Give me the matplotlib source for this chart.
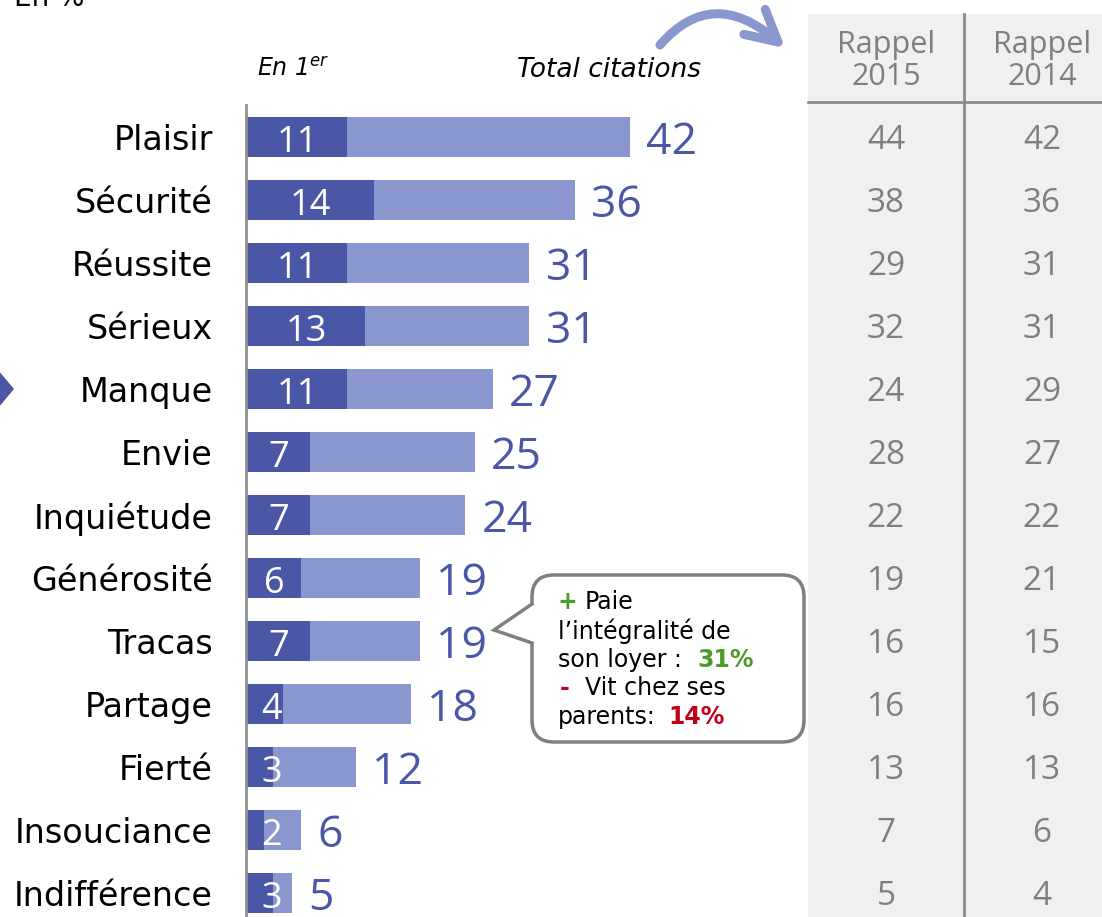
import matplotlib
matplotlib.use("Agg")
import matplotlib.pyplot as plt
import numpy as np
from matplotlib.patches import FancyBboxPatch, Polygon, PathPatch, Rectangle
from matplotlib.path import Path

# Données
categories = ["Plaisir", "Sécurité", "Réussite", "Sérieux", "Manque", "Envie",
              "Inquiétude", "Générosité", "Tracas", "Partage", "Fierté",
              "Insouciance", "Indifférence"]
en_premier = [11, 14, 11, 13, 11, 7, 7, 6, 7, 4, 3, 2, 3]
total_citations = [42, 36, 31, 31, 27, 25, 24, 19, 19, 18, 12, 6, 5]
rappel_2015 = [44, 38, 29, 32, 24, 28, 22, 19, 16, 16, 13, 7, 5]
rappel_2014 = [42, 36, 31, 31, 29, 27, 22, 21, 15, 16, 13, 6, 4]
table_headers = ["Rappel\n2015", "Rappel\n2014"]

DARK = "#4A56A6"
LIGHT = "#8A97CF"
GREY_TXT = "#7F7F7F"
W, H = 1102, 917
ROW = 63  # hauteur d'une ligne en pixels

fig = plt.figure(figsize=(W / 100, H / 100), dpi=100)

# fond du tableau (derrière tout)
over = fig.add_axes([0, 0, 1, 1], zorder=0)
over.set_xlim(0, W)
over.set_ylim(H, 0)
over.axis("off")
over.add_patch(Rectangle((808, 14), W - 808, H - 14, facecolor="#F0F0F0", edgecolor="none"))
over.plot([964, 964], [14, H], color="#8C8C8C", lw=2)
over.plot([808, W], [102, 102], color="#8C8C8C", lw=2)

# barres
ax = fig.add_axes([246 / W, 0, (800 - 246) / W, (H - 105) / H], zorder=1)
ax.patch.set_alpha(0)
y = list(range(len(categories)))
ax.barh(y, total_citations, height=0.63, color=LIGHT)
ax.barh(y, en_premier, height=0.63, color=DARK)
ax.set_xlim(0, (800 - 246) / 9.14)
ax.set_ylim(12 + 24 / ROW, -32 / ROW)
for s in ["top", "right", "bottom"]:
    ax.spines[s].set_visible(False)
ax.spines["left"].set_color("#909090")
ax.spines["left"].set_linewidth(2)
ax.set_xticks([])
ax.set_yticks(y)
ax.set_yticklabels(categories, fontsize=24, color="black")
ax.tick_params(axis="y", length=0, pad=24)

for i in y:
    ax.text(max(en_premier[i] / 2 + 0.1, 2.85), i + 15 / ROW, str(en_premier[i]),
            ha="center", va="baseline", color="white", fontsize=26, family="Open Sans")
    ax.text(total_citations[i] + 1.8, i + 17 / ROW, str(total_citations[i]), ha="left",
            va="baseline", color=DARK, fontsize=32, family="Open Sans")

# tableau des rappels
top = fig.add_axes([0, 0, 1, 1], zorder=2)
top.set_xlim(0, W)
top.set_ylim(H, 0)
top.axis("off")
for cx, head, vals in [(886, table_headers[0], rappel_2015), (1042, table_headers[1], rappel_2014)]:
    top.text(cx, 61, head, ha="center", va="center", color=GREY_TXT, fontsize=22,
             family="Open Sans", linespacing=1.1)
    for i, v in enumerate(vals):
        top.text(cx, 137 + ROW * i + 12, str(v), ha="center", va="baseline", color=GREY_TXT,
                 fontsize=24, family="Open Sans")

# en-têtes
top.text(14, -2, "En %", ha="left", va="center", fontsize=20)
top.text(257, 70, "En 1$^{er}$", ha="left", va="center", fontsize=17, style="italic")
top.text(517, 70, "Total citations", ha="left", va="center", fontsize=19, style="italic")

# flèche courbe : arc de Bézier + tête ouverte
p0, pc, p1 = (660, 45), (712, -15), (776, 40)
arc = Path([p0, pc, p1], [Path.MOVETO, Path.CURVE3, Path.CURVE3])
top.add_patch(PathPatch(arc, fill=False, edgecolor=LIGHT, lw=6.5, capstyle="round"))
tip = np.array([778, 42])
d = np.array(p1) - np.array(pc)
ang = np.arctan2(-d[1], -d[0])
for da in (np.radians(28), -np.radians(28)):
    end = tip + 35 * np.array([np.cos(ang + da), np.sin(ang + da)])
    top.plot([tip[0], end[0]], [tip[1], end[1]], color=LIGHT, lw=6.5,
             solid_capstyle="round")

# marqueur à gauche
top.add_patch(Polygon([(-2, 370), (14, 389), (-2, 408)], closed=True, facecolor=DARK,
                      edgecolor="none"))

# bulle
top.add_patch(FancyBboxPatch((532, 575), 272, 167, boxstyle="round,pad=0,rounding_size=22",
                             facecolor="white", edgecolor="#7F7F7F", lw=2.5))
top.add_patch(Polygon([(534, 604), (494, 630), (534, 643)], closed=True, facecolor="white",
                      edgecolor="none"))
top.plot([532, 494, 532], [604, 630, 643], color="#7F7F7F", lw=2.5, solid_joinstyle="miter")

GREEN = "#4C9A2A"
RED = "#C00018"
fs = 17
top.text(558, 602, "+", color=GREEN, fontsize=fs, va="center", weight="bold")
top.text(585, 602, "Paie", color="black", fontsize=fs, va="center")
top.text(558, 631, "l’intégralité de", color="black", fontsize=fs, va="center")
top.text(558, 660, "son loyer :", color="black", fontsize=fs, va="center")
top.text(697, 660, "31%", color=GREEN, fontsize=fs, va="center", weight="bold")
top.text(560, 688, "-", color=RED, fontsize=fs, va="center", weight="bold")
top.text(585, 688, "Vit chez ses", color="black", fontsize=fs, va="center")
top.text(558, 717, "parents:", color="black", fontsize=fs, va="center")
top.text(668, 717, "14%", color=RED, fontsize=fs, va="center", weight="bold")

fig.savefig("out.png", dpi=100)
